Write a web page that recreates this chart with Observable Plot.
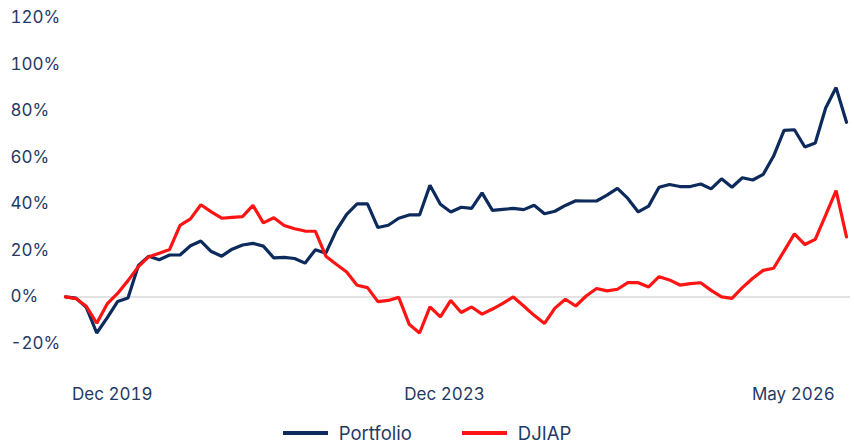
<!DOCTYPE html>
<html>
<head>
<meta charset="utf-8">
<script src="https://cdn.jsdelivr.net/npm/d3@7"></script>
<script src="https://cdn.jsdelivr.net/npm/@observablehq/plot@0.6"></script>
<style>
  html, body { margin: 0; padding: 0; background: #fff; }
  #chart { position: relative; width: 854px; height: 445px; font-family: Inter, "Noto Sans", sans-serif; }
  #legend { position: absolute; left: 0; top: 422px; width: 854px; display: flex; justify-content: center; align-items: center; font-size: 18.5px; color: #1f3a64; }
  .item { display: flex; align-items: center; }
  .sw { width: 45px; height: 4px; margin-right: 11px; }
  .item + .item { margin-left: 50px; }
</style>
</head>
<body>
<div id="chart"></div>
<script>
const seriesNames = ["Portfolio", "DJIAP"];
const seriesColors = ["#0c2a5c", "#ff1414"];
const portfolio = [0, -0.5, -4.5, -15.5, -9, -2, -0.5, 13.5, 17.5, 16, 18, 18, 22, 24, 19.5, 17.5, 20.5, 22.3, 23, 21.8,
  16.8, 17, 16.5, 14.5, 20.3, 18.8, 28.5, 35.5, 40, 40, 29.8, 30.8, 33.8, 35.2, 35.2, 48, 39.8, 36.5, 38.5, 38,
  44.7, 37.2, 37.6, 38, 37.5, 39.4, 35.7, 36.8, 39.3, 41.3, 41.2, 41.2, 43.7, 46.6, 42.3, 36.5, 39, 47.1, 48.3, 47.4,
  47.4, 48.5, 46.4, 50.7, 47.1, 51.2, 50.2, 52.6, 60.5, 71.5, 71.8, 64.4, 66.1, 81.1, 89.9, 75];
const djiap = [0, -0.7, -4, -11.3, -3, 1.5, 7, 13, 17.3, 18.8, 20.4, 30.7, 33.5, 39.6, 36.5, 33.8, 34.2, 34.5, 39.3, 31.8,
  34, 30.7, 29.3, 28.3, 28.2, 17.5, 14, 10.7, 5, 4, -2, -1.5, -0.2, -11.7, -15.5, -4.3, -8.6, -1.5, -6.7, -4.3,
  -7.4, -5.2, -2.8, 0, -3.9, -7.9, -11.4, -4.8, -1, -3.9, 0.4, 3.6, 2.6, 3.3, 6.1, 6.1, 4.3, 8.7, 7.3, 5.1,
  5.7, 6.1, 2.8, 0, -0.6, 4, 8, 11.4, 12.3, 19.7, 27.1, 22.5, 24.7, 35.1, 45.7, 25.8];
const xTickLabels = ["Dec 2019", "Dec 2023", "May 2026"];
const xTickIndex = [4.5, 36.4, 69.9];
const yTicks = [-20, 0, 20, 40, 60, 80, 100, 120];

const rows = [];
[portfolio, djiap].forEach((vals, s) => vals.forEach((v, i) => rows.push({i, v, s: seriesNames[s]})));

const textColor = "#1f3a64";
const plot = Plot.plot({
  width: 854,
  height: 415,
  marginTop: 17,
  marginBottom: 72,
  marginLeft: 65,
  marginRight: 4,
  style: {fontFamily: "Inter, 'Noto Sans', sans-serif", fontSize: "17px", color: textColor, background: "#fff"},
  x: {domain: [0, portfolio.length - 1], range: [65, 846]},
  y: {domain: [-20, 120]},
  color: {domain: seriesNames, range: seriesColors},
  marks: [
    Plot.ruleY([0], {stroke: "#d9d9d9", strokeWidth: 1.5}),
    Plot.axisY({ticks: yTicks, tickSize: 0, tickPadding: 55, textAnchor: "start", tickFormat: d => d + "%", fill: textColor, label: null}),
    Plot.axisX({ticks: xTickIndex, tickSize: 0, tickPadding: 44, tickFormat: (d, k) => xTickLabels[k], fill: textColor, label: null}),
    Plot.line(rows, {x: "i", y: "v", z: "s", stroke: "s", strokeWidth: 3.2, strokeLinejoin: "miter"})
  ]
});
const chart = document.getElementById("chart");
chart.appendChild(plot);
const legend = document.createElement("div");
legend.id = "legend";
seriesNames.forEach((n, k) => {
  const it = document.createElement("div");
  it.className = "item";
  it.innerHTML = `<span class="sw" style="background:${seriesColors[k]}"></span><span>${n}</span>`;
  legend.appendChild(it);
});
chart.appendChild(legend);
</script>
</body>
</html>
